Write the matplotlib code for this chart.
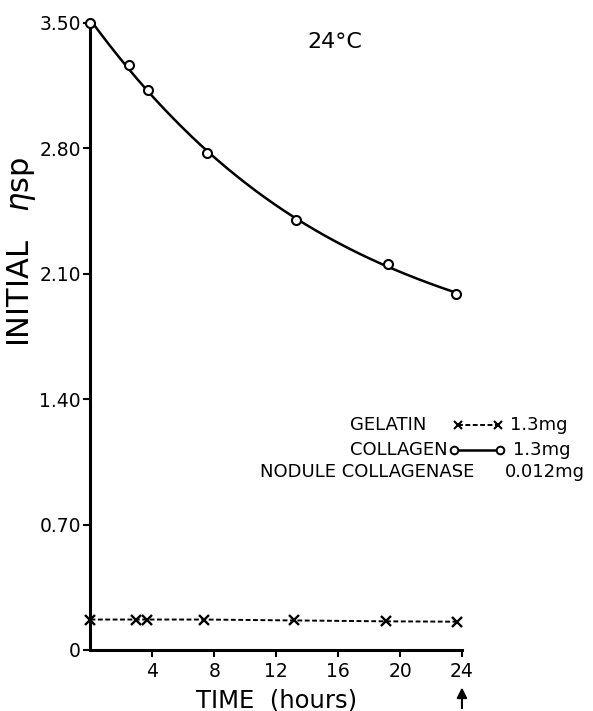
import numpy as np
import matplotlib
matplotlib.use('Agg')
import matplotlib.pyplot as plt
from matplotlib.lines import Line2D

# data
collagen_t = [0.0, 2.5, 3.7, 7.5, 13.25, 19.25, 23.6]
collagen_y = [3.50, 3.265, 3.127, 2.773, 2.40, 2.155, 1.988]
gelatin_t = [0.0, 2.95, 3.65, 7.35, 13.15, 19.1, 23.65]
gelatin_y = [0.17, 0.17, 0.17, 0.17, 0.165, 0.16, 0.158]

yticks = [0, 0.70, 1.40, 2.10, 2.80, 3.50]
ytick_labels = ['0', '0.70', '1.40', '2.10', '2.80', '3.50']
xticks = [4, 8, 12, 16, 20, 24]

plt.rcParams['font.family'] = 'DejaVu Sans'

fig = plt.figure(figsize=(5.93, 7.11), dpi=100)
ax = fig.add_axes([0.1526, 0.0858, 0.6264, 0.8819])

# smooth fitted curve through the collagen points
coef = np.polyfit(collagen_t, collagen_y, 3)
tt = np.linspace(collagen_t[0], collagen_t[-1], 200)
ax.plot(tt, np.polyval(coef, tt), color='black', lw=1.8, zorder=2)
ax.plot(collagen_t, collagen_y, 'o', mfc='white', mec='black', ms=6.5,
        mew=1.5, zorder=3, clip_on=False)

ax.plot(gelatin_t, gelatin_y, color='black', lw=1.4, ls=(0, (2.5, 1.3)),
        marker='x', ms=6.5, mew=1.7, clip_on=False)

ax.set_xlim(0, 24)
ax.set_ylim(0, 3.5)
ax.set_yticks(yticks)
ax.set_yticklabels(ytick_labels)
ax.set_xticks(xticks)
for s in ['top', 'right']:
    ax.spines[s].set_visible(False)
for s in ['left', 'bottom']:
    ax.spines[s].set_linewidth(2.2)
ax.tick_params(direction='out', length=5, width=1.5, labelsize=13.5)
ax.tick_params(axis='y', pad=2)
ax.tick_params(axis='x', pad=4)

ax.set_xlabel('TIME  (hours)', fontsize=17.5, labelpad=5)
fig.text(0.037, 0.512, r'INITIAL   $\eta$sp', rotation=90, fontsize=22,
         ha='center', va='bottom')

fig.text(0.565, 0.941, '24°C', fontsize=16, ha='center', va='center')

# legend block
fs = 13
fig.text(0.59, 0.402, 'GELATIN', fontsize=fs, ha='left', va='center')
fig.add_artist(Line2D([0.772, 0.84], [0.402, 0.402], color='black', lw=1.4,
                      ls=(0, (2.5, 1.3)), marker='x', ms=5.5, mew=1.5,
                      transform=fig.transFigure))
fig.text(0.860, 0.402, '1.3mg', fontsize=fs, ha='left', va='center')
fig.text(0.59, 0.367, 'COLLAGEN', fontsize=fs, ha='left', va='center')
fig.add_artist(Line2D([0.765, 0.843], [0.367, 0.367], color='black', lw=1.8,
                      marker='o', mfc='white', mec='black', ms=5.5, mew=1.4,
                      transform=fig.transFigure))
fig.text(0.865, 0.367, '1.3mg', fontsize=fs, ha='left', va='center')
fig.text(0.438, 0.336, 'NODULE COLLAGENASE', fontsize=fs,
         ha='left', va='center')
fig.text(0.852, 0.336, '0.012mg', fontsize=fs, ha='left', va='center')

# arrow under 24 h
ax.annotate('', xy=(24, 0.037), xytext=(24, 0.0),
            xycoords=('data', 'figure fraction'),
            textcoords=('data', 'figure fraction'),
            arrowprops=dict(arrowstyle='-|>', color='black', lw=1.5,
                            mutation_scale=15))

fig.savefig('out.png', dpi=100)
